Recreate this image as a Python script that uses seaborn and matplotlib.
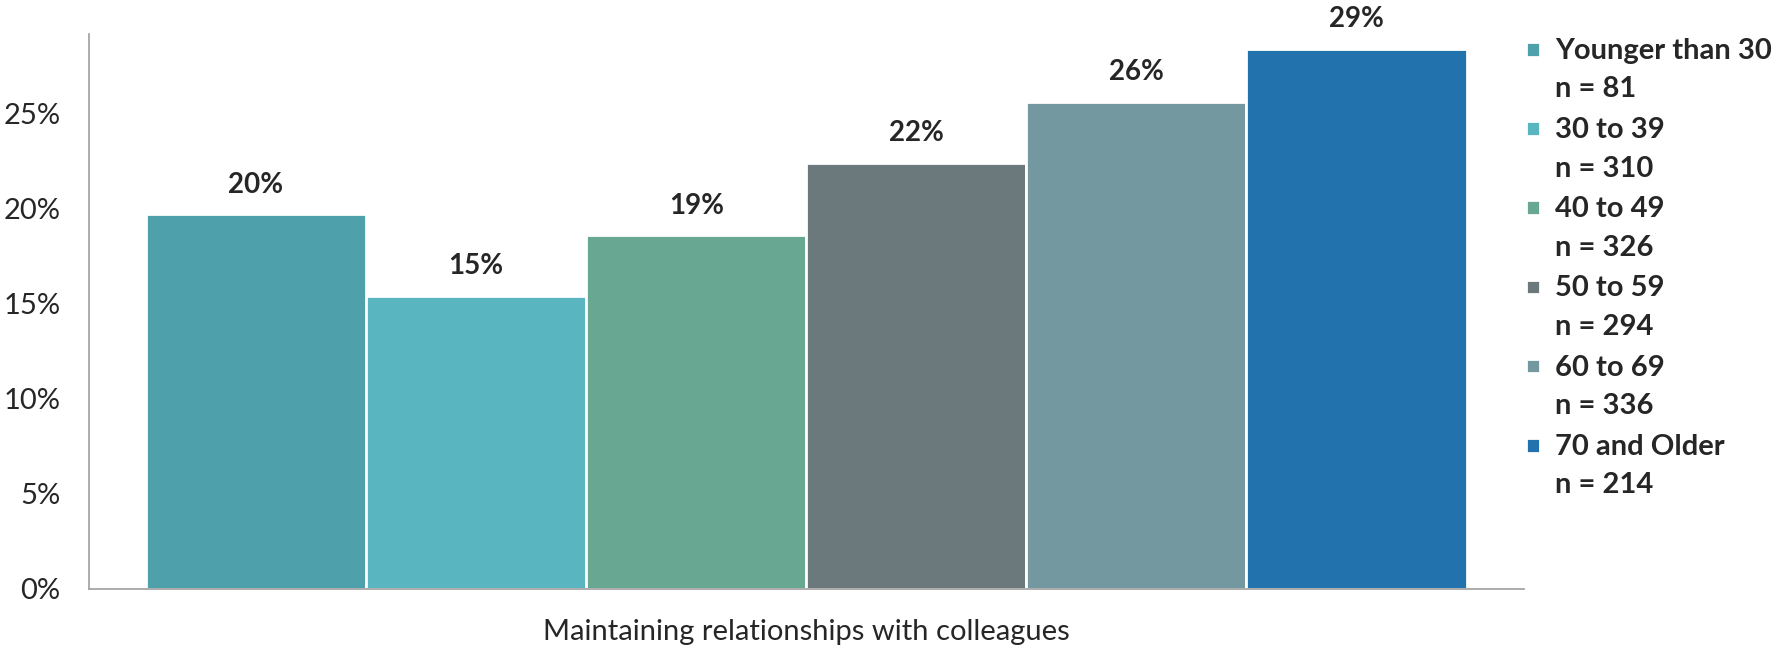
import pandas as pd
import seaborn as sns
from matplotlib import pyplot as plt
from matplotlib.patches import Rectangle
from matplotlib.legend_handler import HandlerPatch

# Data
groups = ['Younger than 30\nn = 81', '30 to 39\nn = 310', '40 to 49\nn = 326',
          '50 to 59\nn = 294', '60 to 69\nn = 336', '70 and Older\nn = 214']
values = [19.7, 15.4, 18.6, 22.4, 25.6, 28.4]
labels = ['20%', '15%', '19%', '22%', '26%', '29%']
category = 'Maintaining relationships with colleagues'
colors = ['#4EA0AA', '#59B5BF', '#68A892', '#6B797C', '#7498A0', '#2272AE']

df = pd.DataFrame({'category': [category] * len(groups),
                   'group': groups,
                   'value': values})

sns.set_style('white')
plt.rcParams['font.family'] = ['Lato', 'DejaVu Sans']

fig = plt.figure(figsize=(17.81, 6.49), dpi=100)
ax = fig.add_axes([0.0497, 0.093, 0.806, 0.855])

sns.barplot(x='category', y='value', hue='group', data=df,
            palette=colors, width=0.92, edgecolor='white', linewidth=2,
            saturation=1, ax=ax)

# Value labels above the bars
for cont, lab in zip(ax.containers, labels):
    ax.bar_label(cont, labels=[lab], padding=12, fontsize=20, fontweight='bold')

ax.set_xlim(-0.5, 0.5)
ax.set_ylim(0, 29.2)
ax.set_yticks([0, 5, 10, 15, 20, 25])
ax.set_yticklabels(['0%', '5%', '10%', '15%', '20%', '25%'], fontsize=21)
ax.tick_params(axis='y', pad=20, length=0)
ax.tick_params(axis='x', labelsize=21, pad=22, length=0)
ax.set_xlabel('')
ax.set_ylabel('')

for side in ['top', 'right']:
    ax.spines[side].set_visible(False)
for side in ['left', 'bottom']:
    ax.spines[side].set_color('#A6A6A6')
    ax.spines[side].set_linewidth(1.3)


# Legend squares sit next to the first line of each two-line label
def top_square(legend, orig_handle, xdescent, ydescent, width, height, fontsize):
    s = 0.5 * fontsize
    return Rectangle((-xdescent, -ydescent + 0.75 * fontsize), s, s)


handles, leg_labels = ax.get_legend_handles_labels()
leg = ax.legend(handles, leg_labels, loc='upper left', bbox_to_anchor=(0.983, 1.04),
                frameon=False, prop={'size': 21, 'weight': 'bold'},
                handlelength=0.5, handleheight=0.5, handletextpad=0.5,
                labelspacing=0.5,
                handler_map={Rectangle: HandlerPatch(patch_func=top_square)})
for t in leg.get_texts():
    t.set_linespacing(1.6)

fig.savefig('out.png', dpi=100)
